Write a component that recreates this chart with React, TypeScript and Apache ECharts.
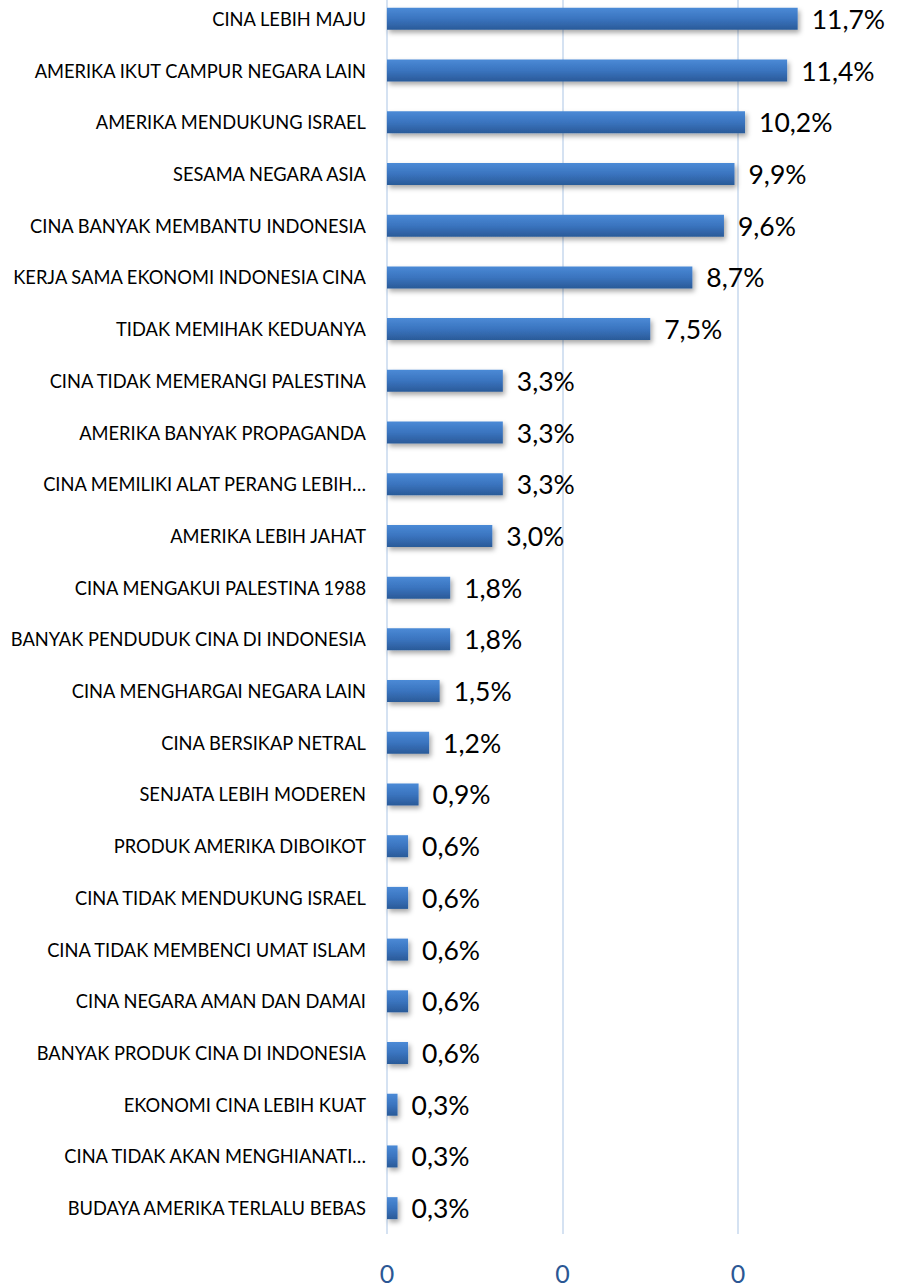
import React, { useEffect, useRef } from "react";
import * as echarts from "echarts";

const categories: string[] = [
  "CINA LEBIH MAJU",
  "AMERIKA IKUT CAMPUR NEGARA LAIN",
  "AMERIKA MENDUKUNG ISRAEL",
  "SESAMA NEGARA ASIA",
  "CINA BANYAK MEMBANTU INDONESIA",
  "KERJA SAMA EKONOMI INDONESIA CINA",
  "TIDAK MEMIHAK KEDUANYA",
  "CINA TIDAK MEMERANGI PALESTINA",
  "AMERIKA BANYAK PROPAGANDA",
  "CINA MEMILIKI ALAT PERANG LEBIH…",
  "AMERIKA LEBIH JAHAT",
  "CINA MENGAKUI PALESTINA 1988",
  "BANYAK PENDUDUK CINA DI INDONESIA",
  "CINA MENGHARGAI NEGARA LAIN",
  "CINA BERSIKAP NETRAL",
  "SENJATA LEBIH MODEREN",
  "PRODUK AMERIKA DIBOIKOT",
  "CINA TIDAK MENDUKUNG ISRAEL",
  "CINA TIDAK MEMBENCI UMAT ISLAM",
  "CINA NEGARA AMAN DAN DAMAI",
  "BANYAK PRODUK CINA DI INDONESIA",
  "EKONOMI CINA LEBIH KUAT",
  "CINA TIDAK AKAN MENGHIANATI…",
  "BUDAYA AMERIKA TERLALU BEBAS",
];

const shares: number[] = [
  0.117, 0.114, 0.102, 0.099, 0.096, 0.087, 0.075, 0.033, 0.033, 0.033, 0.03,
  0.018, 0.018, 0.015, 0.012, 0.009, 0.006, 0.006, 0.006, 0.006, 0.006, 0.003,
  0.003, 0.003,
];

const axisMin = 0;
const axisMax = 0.15;
const axisStep = 0.05;

export default function App() {
  const ref = useRef<HTMLDivElement>(null);
  useEffect(() => {
    if (!ref.current) return;
    const chart = echarts.init(ref.current, undefined, { renderer: "svg" });
    chart.setOption({
      animation: false,
      backgroundColor: "#ffffff",
      grid: { left: 387, right: 26.5, top: 13, bottom: 52, containLabel: false },
      xAxis: {
        type: "value",
        min: axisMin,
        max: axisMax,
        interval: axisStep,
        axisLine: { show: false },
        axisTick: { show: false },
        splitLine: { show: true, lineStyle: { color: "#d5e2f2", width: 2 } },
        axisLabel: {
          formatter: (v: number) => String(Math.round(v)),
          color: "#2b5794",
          fontFamily: "Lato",
          fontSize: 25,
          lineHeight: 25,
          margin: 26,
          showMaxLabel: false,
        },
      },
      yAxis: {
        type: "category",
        inverse: true,
        data: categories,
        axisLine: { show: false },
        axisTick: { show: false },
        axisLabel: {
          color: "#000000",
          fontFamily: "Lato",
          fontSize: 18.3,
          margin: 21,
        },
      },
      series: [
        {
          type: "bar",
          data: shares,
          barWidth: 22,
          itemStyle: {
            color: new echarts.graphic.LinearGradient(0, 0, 0, 1, [
              { offset: 0, color: "#4b8ad6" },
              { offset: 0.5, color: "#3a74bf" },
              { offset: 1, color: "#2a5a98" },
            ]),
            shadowColor: "rgba(0,0,0,0.35)",
            shadowBlur: 5,
            shadowOffsetX: 2,
            shadowOffsetY: 3,
          },
          label: {
            show: true,
            position: "right",
            distance: 14,
            color: "#000000",
            fontFamily: "Lato",
            fontSize: 26.5,
            formatter: (p: any) =>
              (p.value * 100).toFixed(1).replace(".", ",") + "%",
          },
        },
      ],
    });
    return () => chart.dispose();
  }, []);
  return (
    <div
      style={{
        position: "absolute",
        left: 0,
        top: 0,
        width: 900,
        height: 1286,
        overflow: "hidden",
        background: "#ffffff",
      }}
    >
      <div
        ref={ref}
        style={{ position: "absolute", left: 0, top: -20, width: 940, height: 1306 }}
      />
    </div>
  );
}
